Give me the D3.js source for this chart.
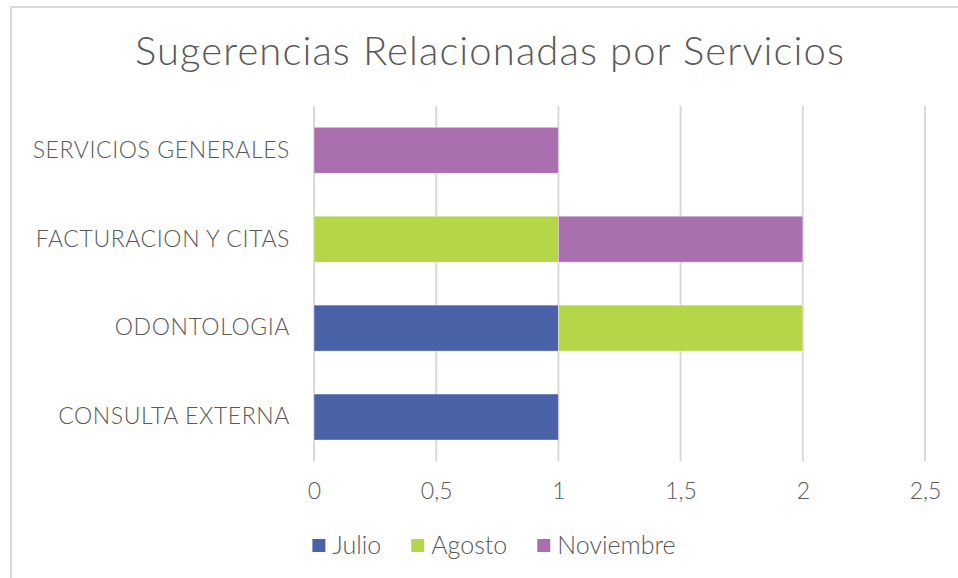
<!DOCTYPE html>
<html>
<head>
<meta charset="utf-8">
<script src="https://cdn.jsdelivr.net/npm/d3@7"></script>
<style>
  html, body { margin: 0; padding: 0; background: #ffffff; }
  svg { display: block; }
  text { font-family: Lato, "Noto Sans", sans-serif; font-weight: 300; fill: #595959; }
</style>
</head>
<body>
<svg id="chart" width="958" height="578"></svg>
<script>
// Services, listed bottom to top as they appear on the axis
const categories = ["CONSULTA EXTERNA", "ODONTOLOGIA", "FACTURACION Y CITAS", "SERVICIOS GENERALES"];
const seriesNames = ["Julio", "Agosto", "Noviembre"];
const julio = [1, 1, 0, 0];
const agosto = [0, 1, 1, 0];
const noviembre = [0, 0, 1, 1];
const xTicks = [0, 0.5, 1, 1.5, 2, 2.5];
const title = "Sugerencias Relacionadas por Servicios";

const colors = ["#4a62a7", "#b6d64a", "#a96faf"];

const plot = { left: 314, right: 925, top: 105.8, bottom: 461.5 };
const fontStack = "Lato, 'Noto Sans', sans-serif";

const svg = d3.select("#chart");

// chart area frame (only the top and left edges fall inside the view)
svg.append("rect")
  .attr("x", 11).attr("y", 7)
  .attr("width", 980).attr("height", 600)
  .attr("fill", "#ffffff")
  .attr("stroke", "#d9d9d9").attr("stroke-width", 2);

const rows = categories.map((c, i) => ({
  category: c, Julio: julio[i], Agosto: agosto[i], Noviembre: noviembre[i]
}));

const x = d3.scaleLinear().domain([0, 2.5]).range([plot.left, plot.right]);
const y = d3.scaleBand()
  .domain(categories.slice().reverse())
  .range([plot.top, plot.bottom])
  .paddingInner(0.483)
  .paddingOuter(0.2415);

// vertical gridlines
svg.append("g")
  .selectAll("line")
  .data(xTicks)
  .join("line")
  .attr("x1", d => x(d)).attr("x2", d => x(d))
  .attr("y1", plot.top).attr("y2", plot.bottom)
  .attr("stroke", "#d9d9d9").attr("stroke-width", 2);

// stacked bars
const stack = d3.stack().keys(seriesNames)(rows);
svg.append("g")
  .selectAll("g")
  .data(stack)
  .join("g")
  .attr("fill", (d, i) => colors[i])
  .selectAll("rect")
  .data(d => d.filter(s => s[1] - s[0] > 0))
  .join("rect")
  .attr("x", d => x(d[0]))
  .attr("y", d => y(d.data.category))
  .attr("width", d => x(d[1]) - x(d[0]))
  .attr("height", y.bandwidth())
  .attr("stroke", "#ffffff").attr("stroke-opacity", 0.5).attr("stroke-width", 0.75);

// x axis tick labels
const xAxis = d3.axisBottom(x)
  .tickValues(xTicks)
  .tickFormat(d => String(d).replace(".", ","))
  .tickSize(0).tickPadding(0);
const gx = svg.append("g")
  .attr("transform", `translate(0, ${plot.bottom + 21})`)
  .call(xAxis);
gx.select(".domain").remove();
gx.selectAll("text")
  .attr("font-size", 23)
  .attr("font-weight", 300)
  .attr("fill", "#595959")
  .attr("font-family", fontStack);

// category labels
const yAxis = d3.axisLeft(y).tickSize(0).tickPadding(0);
const gy = svg.append("g")
  .attr("transform", `translate(290, 0)`)
  .call(yAxis);
gy.select(".domain").remove();
gy.selectAll("text")
  .attr("font-size", 23)
  .attr("font-weight", 300)
  .attr("letter-spacing", 0.6)
  .attr("fill", "#595959")
  .attr("font-family", fontStack);

// title
svg.append("text")
  .attr("x", 490).attr("y", 65)
  .attr("text-anchor", "middle")
  .attr("font-size", 40)
  .attr("letter-spacing", 1.1)
  .text(title);

// legend
const legend = svg.append("g").attr("transform", "translate(0, 545.5)");
const items = legend.selectAll("g")
  .data(seriesNames)
  .join("g");
items.append("rect")
  .attr("width", 13).attr("height", 13)
  .attr("y", -6.5)
  .attr("fill", (d, i) => colors[i]);
items.append("text")
  .attr("x", 20)
  .attr("y", 0)
  .attr("dy", "0.35em")
  .attr("font-size", 25)
  .text(d => d);
let cursor = 0;
const offsets = [];
items.each(function () {
  offsets.push(cursor);
  const w = this.querySelector("text").getComputedTextLength();
  cursor += 20 + w + 30;
});
const totalW = cursor - 30;
const startX = 494 - totalW / 2;
items.attr("transform", (d, i) => `translate(${startX + offsets[i]}, 0)`);
</script>
</body>
</html>
